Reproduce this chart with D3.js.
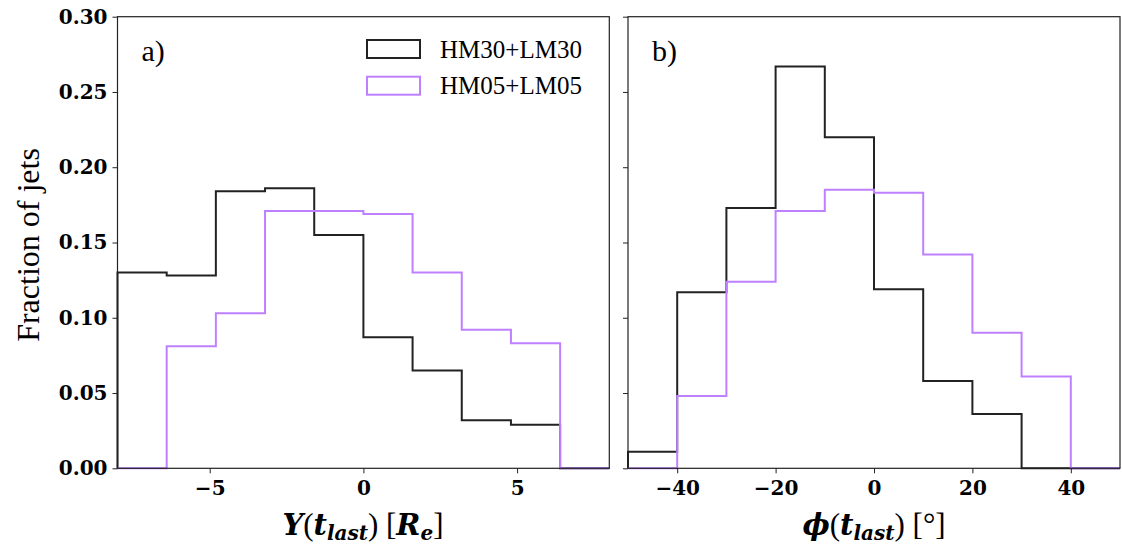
<!DOCTYPE html>
<html>
<head>
<meta charset="utf-8">
<script src="https://cdn.jsdelivr.net/npm/d3@7"></script>
<style>
  body { margin: 0; background: #fff; }
  svg { display: block; }
  .tick text { font-family: "DejaVu Serif", serif; font-weight: bold; font-size: 20px; fill: #000; }
  .tick line, .domain { stroke: #222; }
</style>
</head>
<body>
<div id="chart-area"></div>
<script>
// SVG size
var width = 1122,
    height = 551;

// histogram data (fraction of jets per bin)
let yEdges   = [-8, -6.4, -4.8, -3.2, -1.6, 0, 1.6, 3.2, 4.8, 6.4, 8];
let yHM30    = [0.130, 0.128, 0.184, 0.186, 0.155, 0.087, 0.065, 0.032, 0.029, 0];
let yHM05    = [0, 0.081, 0.103, 0.171, 0.171, 0.169, 0.130, 0.092, 0.083, 0];

let phiEdges = [-50, -40, -30, -20, -10, 0, 10, 20, 30, 40, 50];
let phiHM30  = [0.011, 0.117, 0.173, 0.267, 0.220, 0.119, 0.058, 0.036, 0, 0];
let phiHM05  = [0, 0.048, 0.124, 0.171, 0.185, 0.183, 0.142, 0.090, 0.061, 0];

let seriesNames = ["HM30+LM30", "HM05+LM05"];
let yTicks   = [0, 0.05, 0.10, 0.15, 0.20, 0.25, 0.30];
let xTicksA  = [-5, 0, 5];
let xTicksB  = [-40, -20, 0, 20, 40];

let colors = ["#222222", "#bf80ff"];

let plotTop = 16.7, plotBottom = 468.3;
let panels = [
  {x0: 117.5, x1: 609.3, domain: [-8, 8], edges: yEdges, series: [yHM30, yHM05], ticks: xTicksA, tag: "a)", showY: true},
  {x0: 628, x1: 1120, domain: [-50, 50], edges: phiEdges, series: [phiHM30, phiHM05], ticks: xTicksB, tag: "b)", showY: false}
];

let svg = d3.select("#chart-area").append("svg")
    .attr("width", width)
    .attr("height", height);

let yScale = d3.scaleLinear().domain([0, 0.30]).range([plotBottom, plotTop]);

// step outline like matplotlib histtype='step'
function stepPoints(edges, vals) {
  let pts = [[edges[0], 0]];
  vals.forEach((v, i) => {
    pts.push([edges[i], v]);
    pts.push([edges[i + 1], v]);
  });
  pts.push([edges[edges.length - 1], 0]);
  return pts;
}

let minus = s => String(s).replace("-", "\u2212");

panels.forEach((p, k) => {
  let x = d3.scaleLinear().domain(p.domain).range([p.x0, p.x1]);
  let g = svg.append("g");

  let line = d3.line().x(d => x(d[0])).y(d => yScale(d[1]));

  p.series.forEach((vals, s) => {
    g.append("path")
      .datum(stepPoints(p.edges, vals))
      .attr("fill", "none")
      .attr("stroke", colors[s])
      .attr("stroke-width", 2)
      .attr("d", line);
  });

  // frame
  g.append("rect")
    .attr("x", p.x0).attr("y", plotTop)
    .attr("width", p.x1 - p.x0).attr("height", plotBottom - plotTop)
    .attr("fill", "none").attr("stroke", "#222").attr("stroke-width", 1.2);

  let xaxis = d3.axisBottom(x).tickValues(p.ticks).tickSize(5).tickPadding(8)
      .tickFormat(minus);
  g.append("g")
    .attr("transform", "translate(0," + plotBottom + ")")
    .call(xaxis)
    .call(a => a.select(".domain").remove());

  let yaxis = d3.axisLeft(yScale).tickValues(yTicks).tickSize(5).tickPadding(5)
      .tickFormat(p.showY ? d3.format(".2f") : "");
  g.append("g")
    .attr("transform", "translate(" + p.x0 + ",0)")
    .call(yaxis)
    .call(a => a.select(".domain").remove());

  g.append("text")
    .attr("x", p.x0 + 24)
    .attr("y", 61)
    .attr("font-family", "Liberation Serif, serif")
    .attr("font-size", 30)
    .text(p.tag);
});

// legend in panel a
let legend = svg.append("g");
seriesNames.forEach((name, i) => {
  let ly = 40 + i * 36.7;
  legend.append("rect")
    .attr("x", 367).attr("y", ly)
    .attr("width", 53).attr("height", 18)
    .attr("fill", "none")
    .attr("stroke", colors[i])
    .attr("stroke-width", 2);
  legend.append("text")
    .attr("x", 440).attr("y", ly + 17.5)
    .attr("font-family", "Liberation Serif, serif")
    .attr("font-size", 25)
    .text(name);
});

// y label
svg.append("text")
  .attr("transform", "translate(39,245) rotate(-90)")
  .attr("text-anchor", "middle")
  .attr("font-family", "Liberation Serif, serif")
  .attr("font-size", 32)
  .text("Fraction of jets");

// x labels (math style)
function mathLabel(cx, parts) {
  let t = svg.append("text")
    .attr("x", cx).attr("y", 535)
    .attr("text-anchor", "middle")
    .attr("font-family", "DejaVu Serif, serif")
    .attr("font-size", 29);
  parts.forEach(pt => {
    let ts = t.append("tspan").text(pt.s);
    if (pt.b) ts.attr("font-weight", "bold").attr("font-style", "italic");
    if (pt.sub) ts.attr("font-size", 20).attr("baseline-shift", "-25%").attr("font-weight", "bold").attr("font-style", "italic");
    if (pt.light) ts.attr("font-family", "Liberation Serif, serif").attr("font-size", 31);
  });
}

mathLabel(363, [
  {s: "Y", b: true}, {s: "(", light: true}, {s: "t", b: true}, {s: "last", sub: true},
  {s: ")", light: true}, {s: " [", light: true}, {s: "R", b: true}, {s: "e", sub: true}, {s: "]", light: true}
]);
mathLabel(874, [
  {s: "\u03d5", b: true}, {s: "(", light: true}, {s: "t", b: true}, {s: "last", sub: true},
  {s: ")", light: true}, {s: " [\u00b0]", light: true}
]);
</script>
</body>
</html>
